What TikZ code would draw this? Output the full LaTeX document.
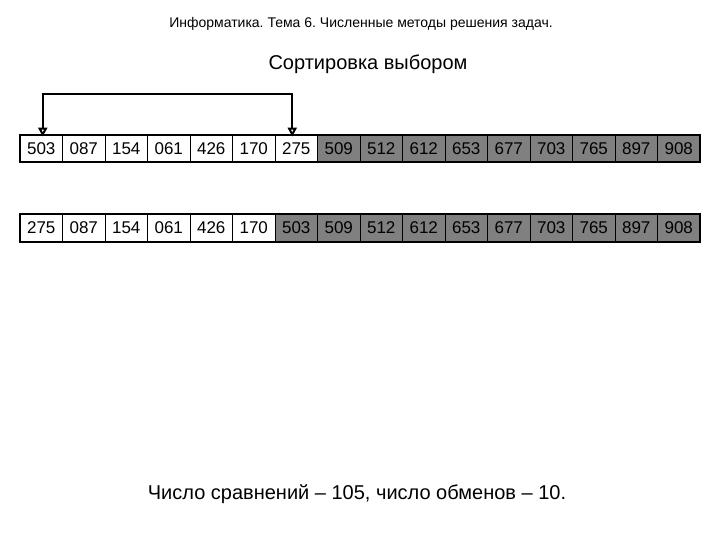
\documentclass[tikz,border=0pt]{standalone}
\usepackage{fontspec}
\setmainfont{Liberation Sans}
\usetikzlibrary{arrows.meta}
\definecolor{cellgray}{HTML}{808080}
\tikzset{
  cell/.style={draw=black, line width=0.8pt, minimum width=42.5pt, minimum height=27pt, inner sep=0pt, font=\fontsize{17}{17}\selectfont, anchor=center},
  wcell/.style={cell, fill=white},
  gcell/.style={cell, fill=cellgray},
  frame/.style={draw=black, line width=2pt},
  swaparrow/.style={draw=black, line width=2.2pt, -{Triangle[open, width=9pt, length=9pt, line width=2pt]}},
}
\frenchspacing
\begin{document}
\frenchspacing
\begin{tikzpicture}[x=1pt, y=-1pt]
\useasboundingbox (0,0) rectangle (720,540);
\node (head) at (361,24) {\fontsize{14}{16}\selectfont Информатика. Тема 6. Численные методы решения задач.};
\node (title) at (368,64) {\fontsize{20}{22}\selectfont Сортировка выбором};
% row 1
\foreach \v [count=\i] in {503,087,154,061,426,170,275} {
  \node[wcell] (a\i) at ({20+42.5*(\i-0.5)},148.5) {\v};
}
\foreach \v [count=\i from 8] in {509,512,612,653,677,703,765,897,908} {
  \node[gcell] (a\i) at ({20+42.5*(\i-0.5)},148.5) {\v};
}
\draw[frame] (a1.north west) rectangle (a16.south east);
% row 2
\foreach \v [count=\i] in {275,087,154,061,426,170} {
  \node[wcell] (b\i) at ({20+42.5*(\i-0.5)},228) {\v};
}
\foreach \v [count=\i from 7] in {503,509,512,612,653,677,703,765,897,908} {
  \node[gcell] (b\i) at ({20+42.5*(\i-0.5)},228) {\v};
}
\draw[frame] (b1.north west) rectangle (b16.south east);
% swap arrows
\coordinate (pl) at ([xshift=1.5pt]a1.north);
\coordinate (pr) at ([xshift=-4pt]a7.north);
\draw[swaparrow] (pr |- 0,94) -- ([yshift=-2pt]pr);
\draw[swaparrow] (pl |- 0,94) -- ([yshift=-2pt]pl);
\draw[draw=black, line width=2.2pt, line cap=rect] (pl |- 0,94) -- (pr |- 0,94);
\node (foot) at (357,494) {\fontsize{20}{22}\selectfont Число сравнений – 105, число обменов – 10.};
\end{tikzpicture}
\end{document}
